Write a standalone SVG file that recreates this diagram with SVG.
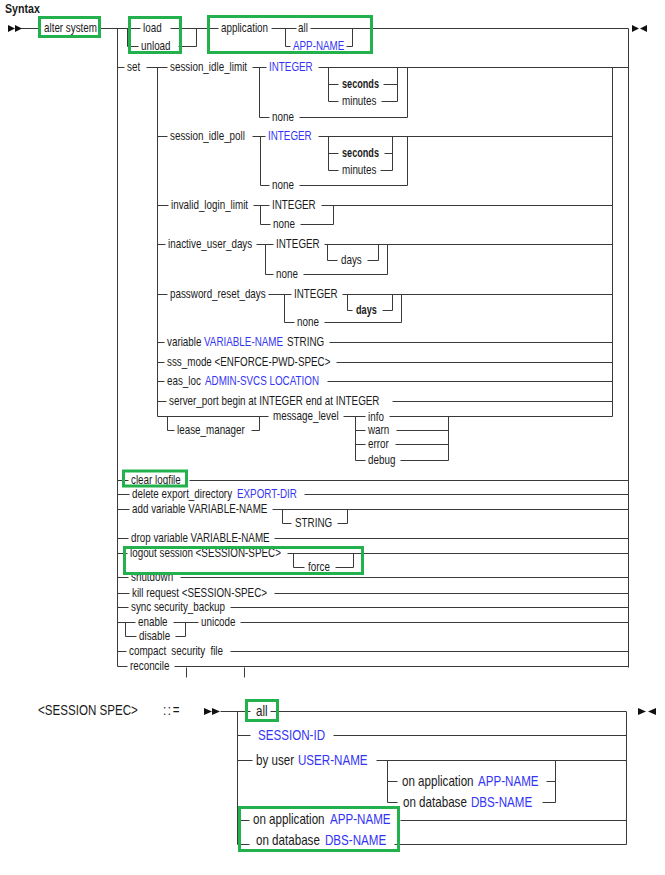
<svg xmlns="http://www.w3.org/2000/svg" width="665" height="875" viewBox="0 0 665 875">
<style>
text{font-family:"Liberation Sans",Arial,sans-serif;font-size:12px;fill:#1a1a1a}
.bl{fill:#3434f4}
.bd{font-weight:bold}
.lg{font-size:14.5px}
.c path{fill:none;stroke:#3a3a3a;stroke-width:1}
.hl{fill:none;stroke:#22b14c;stroke-width:3}
.ar{fill:#111}
</style>
<rect width="665" height="875" fill="#fff"/>
<text class="bd" style="font-size:13px" transform="translate(5,12.5) scale(.82,1)">Syntax</text>
<g id="connectors" class="c" transform="translate(.5,.5)">
<path d="M20 28H40M100 28H140M170 28H218M271 28H296M310 28H628V667M127 28V46H138M178 46H196V28M285 28V46H290M346 46H352V28"/>
<path d="M117 28V666H127M117 67H124M146 67H167M157 67V416"/>
<path d="M252 67H266M318 67H628M259 67V117H269M299 117H407V67M328 67V101H338M328 84H338M383 84H397M381 101H397V67"/>
<path d="M157 136H167M252 136H265M318 136H612M260 136V185H269M299 185H407V136M328 136V170H338M328 153H338M384 153H392M380 170H392V136"/>
<path d="M157 205H168M253 205H269M321 205H612M260 205V224H270M300 224H333V205"/>
<path d="M157 244H165M256 244H273M324 244H612M265 244V274H273M303 274H387V244M327 244V260H337M367 260H378V244"/>
<path d="M157 294H167M268 294H291M342 294H612M284 294V322H294M324 322H401V294M347 294V310H352M382 310H392V294"/>
<path d="M157 342H164M329 342H612M157 362H164M336 362H612M157 381H164M327 381H612M157 401H166M392 401H612"/>
<path d="M157 416H268M343 416H365M389 416H612V67M167 416V430H174M251 430H259V416M355 416V460H365M355 430H365M355 444H365M396 430H448M395 444H448M400 460H448V416"/>
<path d="M117 480H128M189 480H628M117 494H129M304 494H628M117 509H129M272 509H628M282 509V523H291M337 523H347V509M117 538H128M274 538H628"/>
<path d="M117 553H127M287 553H628M293 553V567H304M335 567H353V553M117 577H128M180 577H628M117 593H129M274 593H628M117 607H128M230 607H628"/>
<path d="M117 622H135M173 622H198M240 622H628M125 622V636H136M175 636H185V622M117 651H126M230 651H628M174 666H628M186 667V677M244 667V677"/>
<path d="M220 711H250M270 711H626V844M237 711V844H249M237 735H250M333 735H626M237 760H252M376 760H626M387 760V802H397M387 781H397M546 781H555M542 802H555V760M237 820H249M400 820H626M394 844H626"/>
</g>
<g id="terminals">
<polygon class="ar" points="8,25 15,28.5 8,32"/><polygon class="ar" points="15,25 22,28.5 15,32"/>
<polygon class="ar" points="632,25 639,28.5 632,32"/><polygon class="ar" points="647,25 640,28.5 647,32"/>
<polygon class="ar" points="204,708 212,711.5 204,715"/><polygon class="ar" points="212,708 220,711.5 212,715"/>
<polygon class="ar" points="638,708 646,711.5 638,715"/><polygon class="ar" points="656,708 648,711.5 656,715"/>
</g>
<g id="n-alter"><text transform="translate(44,32) scale(.82,1)">alter system</text></g>
<g id="n-load"><text transform="translate(143,32) scale(.82,1)">load</text></g>
<g id="n-unload"><text transform="translate(141,50) scale(.82,1)">unload</text></g>
<g id="n-application"><text transform="translate(221,32) scale(.82,1)">application</text></g>
<g id="n-app-all"><text transform="translate(298,32) scale(.82,1)">all</text></g>
<g id="n-app-name"><text class="bl" transform="translate(293,50) scale(.82,1)">APP-NAME</text></g>
<g id="n-set"><text transform="translate(127,71) scale(.82,1)">set</text></g>
<g id="n-sil"><text transform="translate(170,71) scale(.82,1)">session_idle_limit</text>
<text class="bl" transform="translate(269,71) scale(.82,1)">INTEGER</text>
<text class="bd" transform="translate(342,88) scale(.76,1)">seconds</text>
<text transform="translate(342,105) scale(.82,1)">minutes</text>
<text transform="translate(272,121) scale(.82,1)">none</text></g>
<g id="n-sip"><text transform="translate(170,140) scale(.82,1)">session_idle_poll</text>
<text class="bl" transform="translate(268,140) scale(.82,1)">INTEGER</text>
<text class="bd" transform="translate(342,157) scale(.76,1)">seconds</text>
<text transform="translate(342,174) scale(.82,1)">minutes</text>
<text transform="translate(272,189) scale(.82,1)">none</text></g>
<g id="n-ill"><text transform="translate(171,209) scale(.82,1)">invalid_login_limit</text>
<text transform="translate(272,209) scale(.82,1)">INTEGER</text>
<text transform="translate(273,228) scale(.82,1)">none</text></g>
<g id="n-iud"><text transform="translate(168,248) scale(.82,1)">inactive_user_days</text>
<text transform="translate(276,248) scale(.82,1)">INTEGER</text>
<text transform="translate(341,264) scale(.82,1)">days</text>
<text transform="translate(276,278) scale(.82,1)">none</text></g>
<g id="n-prd"><text transform="translate(170,298) scale(.82,1)">password_reset_days</text>
<text transform="translate(294,298) scale(.82,1)">INTEGER</text>
<text class="bd" transform="translate(356,314) scale(.76,1)">days</text>
<text transform="translate(297,326) scale(.82,1)">none</text></g>
<g id="n-variable"><text transform="translate(167,346) scale(.82,1)">variable</text>
<text class="bl" transform="translate(204,346) scale(.82,1)">VARIABLE-NAME</text>
<text transform="translate(287,346) scale(.82,1)">STRING</text></g>
<g id="n-sss"><text transform="translate(167,366) scale(.82,1)">sss_mode &lt;ENFORCE-PWD-SPEC&gt;</text></g>
<g id="n-eas"><text transform="translate(167,385) scale(.82,1)">eas_loc</text>
<text class="bl" transform="translate(205,385) scale(.82,1)">ADMIN-SVCS LOCATION</text></g>
<g id="n-server-port"><text transform="translate(169,405) scale(.82,1)">server_port begin at INTEGER end at INTEGER</text></g>
<g id="n-lease"><text transform="translate(177,434) scale(.82,1)">lease_manager</text></g>
<g id="n-msg"><text transform="translate(273,420) scale(.82,1)">message_level</text>
<text transform="translate(368,421) scale(.82,1)">info</text>
<text transform="translate(368,434) scale(.82,1)">warn</text>
<text transform="translate(368,448) scale(.82,1)">error</text>
<text transform="translate(368,464) scale(.82,1)">debug</text></g>
<g id="n-clear"><text transform="translate(131,484) scale(.82,1)">clear logfile</text></g>
<g id="n-delete"><text transform="translate(132,498) scale(.82,1)">delete export_directory</text>
<text class="bl" transform="translate(237,498) scale(.82,1)">EXPORT-DIR</text></g>
<g id="n-add"><text transform="translate(132,513) scale(.82,1)">add variable VARIABLE-NAME</text>
<text transform="translate(295,527) scale(.82,1)">STRING</text></g>
<g id="n-drop"><text transform="translate(131,542) scale(.82,1)">drop variable VARIABLE-NAME</text></g>
<g id="n-logout"><text transform="translate(130,557) scale(.82,1)">logout session &lt;SESSION-SPEC&gt;</text>
<text transform="translate(308,571) scale(.82,1)">force</text></g>
<g id="n-shutdown"><text transform="translate(131,581) scale(.82,1)">shutdown</text></g>
<g id="n-kill"><text transform="translate(132,597) scale(.82,1)">kill request &lt;SESSION-SPEC&gt;</text></g>
<g id="n-sync"><text transform="translate(131,611) scale(.82,1)">sync security_backup</text></g>
<g id="n-unicode"><text transform="translate(138,626) scale(.82,1)">enable</text>
<text transform="translate(139,640) scale(.82,1)">disable</text>
<text transform="translate(201,626) scale(.82,1)">unicode</text></g>
<g id="n-compact"><text transform="translate(129,655) scale(.82,1)" word-spacing="3">compact security file</text></g>
<g id="n-reconcile"><text transform="translate(130,670) scale(.82,1)">reconcile</text></g>
<g id="n-spec-head"><text class="lg" transform="translate(38,715) scale(.8,1)">&lt;SESSION SPEC&gt;</text>
<text class="lg" letter-spacing="2" transform="translate(163,715) scale(.8,1)">::=</text></g>
<g id="n-spec-all"><text class="lg" transform="translate(256,716) scale(.8,1)">all</text></g>
<g id="n-spec-id"><text class="lg bl" transform="translate(258,740) scale(.8,1)">SESSION-ID</text></g>
<g id="n-spec-user"><text class="lg" transform="translate(256,765) scale(.8,1)">by user</text>
<text class="lg bl" transform="translate(298,765) scale(.8,1)">USER-NAME</text></g>
<g id="n-spec-user-app"><text class="lg" transform="translate(402,786) scale(.8,1)">on application</text>
<text class="lg bl" transform="translate(478,786) scale(.8,1)">APP-NAME</text></g>
<g id="n-spec-user-db"><text class="lg" transform="translate(403,807) scale(.8,1)">on database</text>
<text class="lg bl" transform="translate(471,807) scale(.8,1)">DBS-NAME</text></g>
<g id="n-spec-app"><text class="lg" transform="translate(253,824) scale(.8,1)">on application</text>
<text class="lg bl" transform="translate(330,824) scale(.8,1)">APP-NAME</text></g>
<g id="n-spec-db"><text class="lg" transform="translate(256,845) scale(.8,1)">on database</text>
<text class="lg bl" transform="translate(325,845) scale(.8,1)">DBS-NAME</text></g>
<g id="highlights">
<rect class="hl" x="39.5" y="17.5" width="60" height="19"/>
<rect class="hl" x="129.5" y="17.5" width="51" height="35"/>
<rect class="hl" x="208.5" y="16.5" width="163" height="36"/>
<rect class="hl" x="123.5" y="471" width="63" height="15"/>
<rect class="hl" x="124.5" y="547.5" width="238" height="26"/>
<rect class="hl" x="246.5" y="700.5" width="31" height="20"/>
<rect class="hl" x="239.5" y="807.5" width="159" height="43"/>
</g>
</svg>
